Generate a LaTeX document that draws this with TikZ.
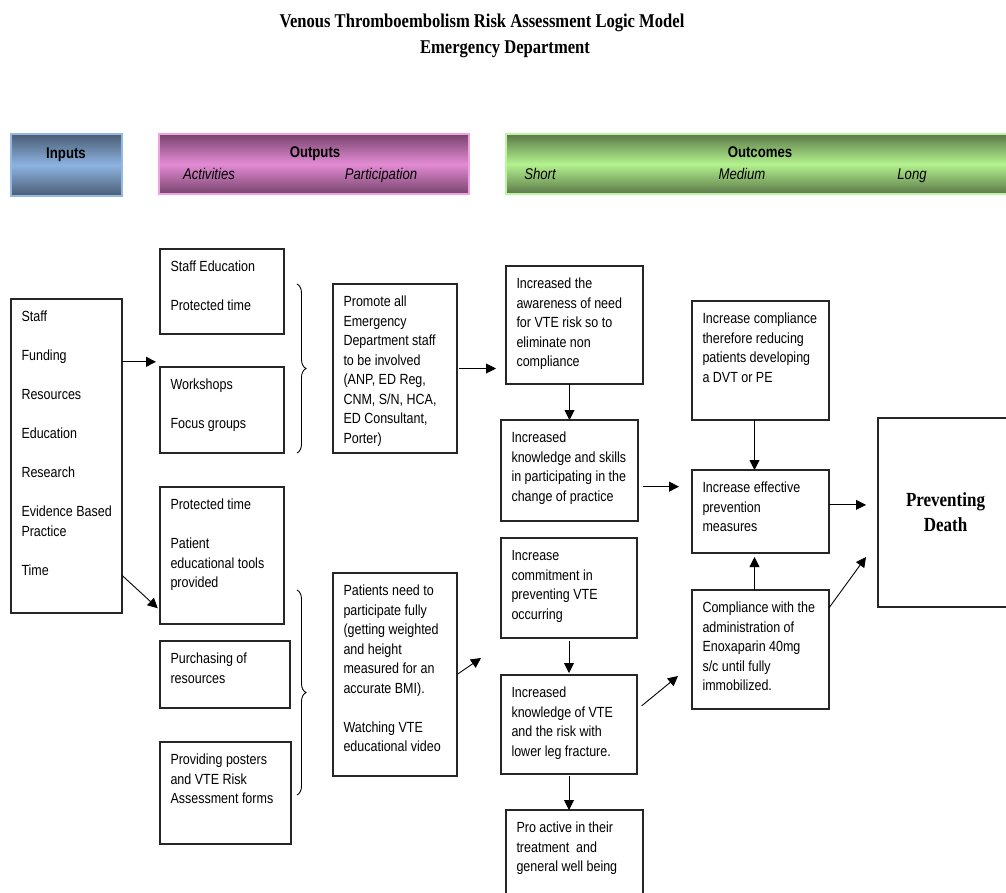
\documentclass[tikz,border=0pt]{standalone}
\usepackage{fontspec}
\setmainfont{Liberation Sans}[FakeStretch=0.85]
\newfontfamily\titlefont{Liberation Serif}[FakeStretch=0.85]
\usetikzlibrary{arrows.meta,calc,decorations.pathreplacing}
\definecolor{indark}{HTML}{4A5C73}
\definecolor{inlight}{HTML}{8DB3E2}
\definecolor{inbord}{HTML}{95B8E3}
\definecolor{outdark}{HTML}{78446D}
\definecolor{outlight}{HTML}{E38BD4}
\definecolor{outbord}{HTML}{EFA3E0}
\definecolor{ocdark}{HTML}{5C7848}
\definecolor{oclight}{HTML}{B3F28E}
\definecolor{ocbord}{HTML}{BAF5A2}
\tikzset{
 box/.style={draw=black!85, line width=1.1pt, inner sep=0pt, outer sep=0pt, anchor=north west, fill=white},
 arr/.style={draw=black, line width=0.9pt, -{Triangle[length=10pt,width=10pt]}},
 hdr/.style={line width=1.3pt, inner sep=0pt, outer sep=0pt, anchor=north west},
 hb/.style={font=\fontsize{15.5}{17}\selectfont\bfseries, inner sep=0pt, anchor=base},
 hi/.style={font=\fontsize{15.5}{17}\selectfont\itshape, inner sep=0pt, anchor=base},
 brc/.style={decorate, decoration={brace, amplitude=9pt}, line width=0.9pt},
 ttl/.style={font=\titlefont\bfseries\fontsize{19.5}{24}\selectfont, inner sep=0pt}
}
\newcommand\bx[6]{\node[box, minimum width=#4pt, minimum height=#5pt] (#1) at (#2,#3) {\parbox[c][#5pt][t]{#4pt}{\fontsize{14.7}{19.5}\selectfont\raggedright\leftskip=10.5pt\relax\vspace*{9pt}\leavevmode\strut#6}};}
\newcommand\sk{\\[19.5pt]}
\begin{document}
\begin{tikzpicture}[x=1pt,y=-1pt]
\useasboundingbox (0,0) rectangle (1006,892);
\clip (0,0) rectangle (1006,892);
% title
\node[ttl] (title1) at (482,23) {Venous Thromboembolism Risk Assessment Logic Model};
\node[ttl] (title2) at (505,49) {Emergency Department};
% headers
\node[hdr, draw=inbord, top color=indark, bottom color=indark, middle color=inlight, minimum width=111pt, minimum height=62pt] (hin) at (11,134) {};
\node[hb] (tin) at (66,158) {Inputs};
\node[hdr, draw=outbord, top color=outdark, bottom color=outdark, middle color=outlight, minimum width=310pt, minimum height=60pt] (hout) at (159,134) {};
\node[hb] (tout) at (315,157) {Outputs};
\node[hi] (tact) at (209,179) {Activities};
\node[hi] (tpar) at (381,179) {Participation};
\node[hdr, draw=ocbord, top color=ocdark, bottom color=ocdark, middle color=oclight, minimum width=510pt, minimum height=60pt] (hoc) at (506,134) {};
\node[hb] (toc) at (760,157) {Outcomes};
\node[hi] (tsh) at (540,179) {Short};
\node[hi] (tme) at (742,179) {Medium};
\node[hi] (tlo) at (912,179) {Long};
% boxes
\bx{inputs}{11}{299}{111}{314}{Staff\sk Funding\sk Resources\sk Education\sk Research\sk Evidence Based\\Practice\sk Time}
\bx{sted}{160}{249}{124}{85}{Staff Education\sk Protected time}
\bx{wk}{160}{367}{124}{86}{Workshops\sk Focus groups}
\bx{promote}{333}{284}{124}{169}{Promote all\\Emergency\\Department staff\\to be involved\\(ANP, ED Reg,\\CNM, S/N, HCA,\\ED Consultant,\\Porter)}
\bx{prot}{160}{487}{124}{137}{Protected time\sk Patient\\educational tools\\provided}
\bx{purch}{160}{641}{130}{67}{Purchasing of\\resources}
\bx{post}{160}{742}{131}{102}{Providing posters\\and VTE Risk\\Assessment forms}
\bx{patients}{333}{573}{124}{203}{Patients need to\\participate fully\\(getting weighted\\and height\\measured for an\\accurate BMI).\sk Watching VTE\\educational video}
\bx{aware}{506}{266}{137}{118}{Increased the\\awareness of need\\for VTE risk so to\\eliminate non\\compliance}
\bx{know}{501}{420}{137}{101}{Increased\\knowledge and skills\\in participating in the\\change of practice}
\bx{commit}{501}{538}{136}{100}{Increase\\commitment in\\preventing VTE\\occurring}
\bx{kvte}{501}{675}{136}{99}{Increased\\knowledge of VTE\\and the risk with\\lower leg fracture.}
\bx{pro}{506}{810}{137}{95}{Pro active in their\\treatment\ \ and\\general well being}
\bx{incomp}{692}{301}{137}{119}{Increase compliance\\therefore reducing\\patients developing\\a DVT or PE}
\bx{eff}{692}{470}{137}{83}{Increase effective\\prevention\\measures}
\bx{compw}{692}{590}{137}{119}{Compliance with the\\administration of\\Enoxaparin 40mg\\s/c until fully\\immobilized.}
\node[box, minimum width=135pt, minimum height=189pt, align=center, font=\titlefont\bfseries\fontsize{20}{25}\selectfont] (death) at (878,418) {Preventing\\Death};
% braces
\draw[brc] (297,284) -- (297,453);
\draw[brc] (297,590) -- (297,795);
% connectors
\coordinate (i1) at ($(inputs.north east)!0.2!(inputs.south east)$);
\draw[arr, shorten >=4pt] (i1) -- (i1 -| wk.west);
\coordinate (i2) at ($(inputs.north east)!0.88!(inputs.south east)$);
\coordinate (p2) at ($(prot.north west)!0.9!(prot.south west)$);
\draw[arr, shorten >=3pt] (i2) -- (p2);
\draw[arr, shorten <=2pt, shorten >=10pt] (promote.east) -- (promote.east -| aware.west);
\draw[arr] (aware.south -| know.north) -- (know.north);
\coordinate (k1) at ($(know.north east)!0.66!(know.south east)$);
\draw[arr, shorten <=5pt, shorten >=13pt] (k1) -- (k1 -| eff.west);
\draw[arr, shorten <=3pt, shorten >=2pt] (commit.south) -- (kvte.north);
\draw[arr, shorten <=2pt] (kvte.south) -- (kvte.south |- pro.north);
\coordinate (pend) at (481,658);
\draw[arr, shorten <=1pt] (patients.east) -- (pend);
\coordinate (k2) at ($(kvte.north east)!0.35!(kvte.south east)$);
\coordinate (kend) at (678,676);
\draw[arr, shorten <=6pt] (k2) -- (kend);
\draw[arr] ([xshift=-6pt]incomp.south) -- ([xshift=-6pt]eff.north);
\draw[arr, shorten >=4pt] ([xshift=-6pt]compw.north) -- ([xshift=-6pt]eff.south);
\coordinate (e1) at ($(eff.north east)!0.42!(eff.south east)$);
\draw[arr, shorten >=12pt] (e1) -- (e1 -| death.west);
\coordinate (c1) at ($(compw.north east)!0.15!(compw.south east)$);
\coordinate (cend) at (866,557);
\draw[arr] (c1) -- (cend);
\end{tikzpicture}
\end{document}
